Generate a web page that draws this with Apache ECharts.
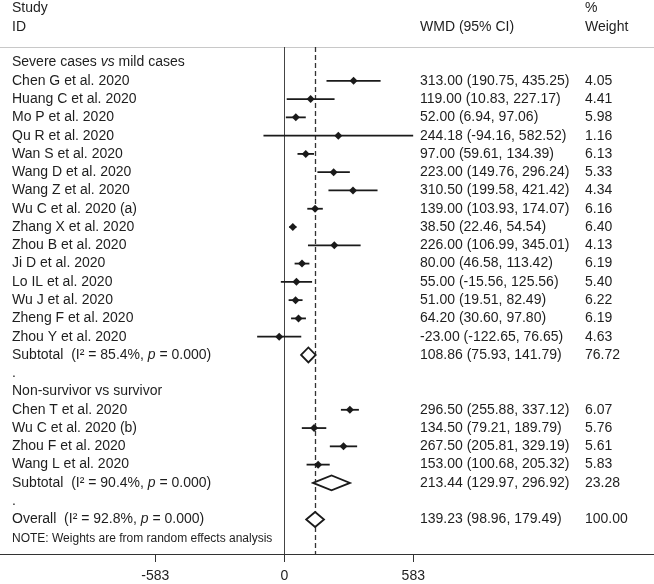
<!DOCTYPE html>
<html>
<head>
<meta charset="utf-8">
<script src="https://cdn.jsdelivr.net/npm/echarts@6/dist/echarts.min.js"></script>
<style>
html,body{margin:0;padding:0;background:#fff;}
#main{width:654px;height:584px;}
</style>
</head>
<body>
<div id="main"></div>
<script>
// ---------- data ----------
const group1Title = 'Severe cases vs mild cases';
const group1Names = ['Chen G et al. 2020','Huang C et al. 2020','Mo P et al. 2020','Qu R et al. 2020','Wan S et al. 2020','Wang D et al. 2020','Wang Z et al. 2020','Wu C et al. 2020 (a)','Zhang X et al. 2020','Zhou B et al. 2020','Ji D et al. 2020','Lo IL et al. 2020','Wu J et al. 2020','Zheng F et al. 2020','Zhou Y et al. 2020'];
const group1Est   = [313.00,119.00,52.00,244.18,97.00,223.00,310.50,139.00,38.50,226.00,80.00,55.00,51.00,64.20,-23.00];
const group1Lower = [190.75,10.83,6.94,-94.16,59.61,149.76,199.58,103.93,22.46,106.99,46.58,-15.56,19.51,30.60,-122.65];
const group1Upper = [435.25,227.17,97.06,582.52,134.39,296.24,421.42,174.07,54.54,345.01,113.42,125.56,82.49,97.80,76.65];
const group1Weight= [4.05,4.41,5.98,1.16,6.13,5.33,4.34,6.16,6.40,4.13,6.19,5.40,6.22,6.19,4.63];
const group1Sub   = [108.86,75.93,141.79,76.72];
const group1I2 = '85.4%';

const group2Title = 'Non-survivor vs survivor';
const group2Names = ['Chen T et al. 2020','Wu C et al. 2020 (b)','Zhou F et al. 2020','Wang L et al. 2020'];
const group2Est   = [296.50,134.50,267.50,153.00];
const group2Lower = [255.88,79.21,205.81,100.68];
const group2Upper = [337.12,189.79,329.19,205.32];
const group2Weight= [6.07,5.76,5.61,5.83];
const group2Sub   = [213.44,129.97,296.92,23.28];
const group2I2 = '90.4%';

const overall = [139.23,98.96,179.49,100.00];
const overallI2 = '92.8%';
const xTicks = [-583,0,583];
const noteText = 'NOTE: Weights are from random effects analysis';

// ---------- build rows ----------
const rows = [];
function fmt(v){return v.toFixed(2);}
rows.push({label:'{n|Severe cases }{i|vs}{n| mild cases}', kind:'title'});
group1Names.forEach((n,i)=>rows.push({label:'{n|'+n+'}', est:group1Est[i], lo:group1Lower[i], hi:group1Upper[i], w:group1Weight[i], kind:'study'}));
rows.push({label:'{n|Subtotal  (I² = '+group1I2+', }{i|p}{n| = 0.000)}', est:group1Sub[0], lo:group1Sub[1], hi:group1Sub[2], w:group1Sub[3], kind:'pooled'});
rows.push({label:'{n|.}', kind:'title'});
rows.push({label:'{n|'+group2Title+'}', kind:'title'});
group2Names.forEach((n,i)=>rows.push({label:'{n|'+n+'}', est:group2Est[i], lo:group2Lower[i], hi:group2Upper[i], w:group2Weight[i], kind:'study'}));
rows.push({label:'{n|Subtotal  (I² = '+group2I2+', }{i|p}{n| = 0.000)}', est:group2Sub[0], lo:group2Sub[1], hi:group2Sub[2], w:group2Sub[3], kind:'pooled'});
rows.push({label:'{n|.}', kind:'title'});
rows.push({label:'{n|Overall  (I² = '+overallI2+', }{i|p}{n| = 0.000)}', est:overall[0], lo:overall[1], hi:overall[2], w:overall[3], kind:'pooled'});

const markData = [];
const textData = [];
rows.forEach((r,i)=>{
  textData.push([0,i]);
  if(r.kind!=='title') markData.push([i, r.est, r.lo, r.hi, r.kind==='study'?0:1]);
});

const FONT = '"Liberation Sans", Arial, Helvetica, sans-serif';
const TXT = '#1e1e1e';
const rich = {
  n:{fontFamily:FONT,fontSize:14,fill:TXT,color:TXT},
  i:{fontFamily:FONT,fontSize:14,fontStyle:'italic',fill:TXT,color:TXT}
};

const chart = echarts.init(document.getElementById('main'));
const option = {
  animation:false,
  backgroundColor:'#fff',
  grid:{left:0,right:0,top:47,bottom:30},
  xAxis:{
    type:'value', min:-1285, max:1671, position:'bottom',
    axisLine:{show:true,onZero:false,lineStyle:{color:'#333',width:1}},
    axisTick:{show:true,customValues:xTicks,length:8,lineStyle:{color:'#333',width:1}},
    axisLabel:{show:true,customValues:xTicks,fontSize:14,fontFamily:FONT,color:TXT,margin:15},
    splitLine:{show:false}
  },
  yAxis:{type:'value',inverse:true,min:-0.85,max:26.89,show:false},
  graphic:[
    {type:'line',shape:{x1:0,y1:47.5,x2:654,y2:47.5},style:{stroke:'#c8c8c8',lineWidth:1},z:1},
    {type:'text',left:12,top:1,style:{text:'Study',font:'14px '+FONT,fill:TXT}},
    {type:'text',left:12,top:20,style:{text:'ID',font:'14px '+FONT,fill:TXT}},
    {type:'text',left:420,top:20,style:{text:'WMD (95% CI)',font:'14px '+FONT,fill:TXT}},
    {type:'text',left:585,top:1,style:{text:'%',font:'14px '+FONT,fill:TXT}},
    {type:'text',left:585,top:20,style:{text:'Weight',font:'14px '+FONT,fill:TXT}},
    {type:'text',left:12,top:533,style:{text:noteText,font:'12px '+FONT,fill:TXT}}
  ],
  series:[
    {
      type:'custom',
      name:'ref',
      data:[],
      renderItem:()=>null,
      markLine:{
        symbol:'none', silent:true, label:{show:false},
        data:[
          {xAxis:0, lineStyle:{type:'solid',color:'#444',width:1}},
          {xAxis:overall[0], lineStyle:{type:[5,3],color:'#333',width:1.3}}
        ]
      }
    },
    {
      type:'custom',
      name:'marks',
      data:markData,
      z:5,
      renderItem:function(params,api){
        const r=api.value(0), e=api.value(1), lo=api.value(2), hi=api.value(3), k=api.value(4);
        const pe=api.coord([e,r]), pl=api.coord([lo,r]), ph=api.coord([hi,r]);
        if(k===0){
          return {type:'group',children:[
            {type:'line',shape:{x1:pl[0],y1:pe[1],x2:ph[0],y2:pe[1]},style:{stroke:'#1a1a1a',lineWidth:1.8}},
            {type:'polygon',shape:{points:[[pe[0]-4,pe[1]],[pe[0],pe[1]-4],[pe[0]+4,pe[1]],[pe[0],pe[1]+4]]},style:{fill:'#1a1a1a'}}
          ]};
        }
        return {type:'polygon',shape:{points:[[pl[0],pe[1]],[pe[0],pe[1]-7.5],[ph[0],pe[1]],[pe[0],pe[1]+7.5]]},
                style:{fill:'#fff',stroke:'#1a1a1a',lineWidth:1.8}};
      }
    },
    {
      type:'custom',
      name:'texts',
      data:textData,
      z:6,
      renderItem:function(params,api){
        const i=api.value(1);
        const r=rows[i];
        const y=api.coord([0,i])[1];
        const kids=[{type:'text',style:{text:r.label,rich:rich,x:12,y:y,verticalAlign:'middle',font:'14px '+FONT,fill:TXT}}];
        if(r.kind!=='title'){
          kids.push({type:'text',style:{text:fmt(r.est)+' ('+fmt(r.lo)+', '+fmt(r.hi)+')',x:420,y:y,verticalAlign:'middle',font:'14px '+FONT,fill:TXT}});
          kids.push({type:'text',style:{text:fmt(r.w),x:585,y:y,verticalAlign:'middle',font:'14px '+FONT,fill:TXT}});
        }
        return {type:'group',children:kids};
      }
    }
  ]
};
chart.setOption(option);
</script>
</body>
</html>
